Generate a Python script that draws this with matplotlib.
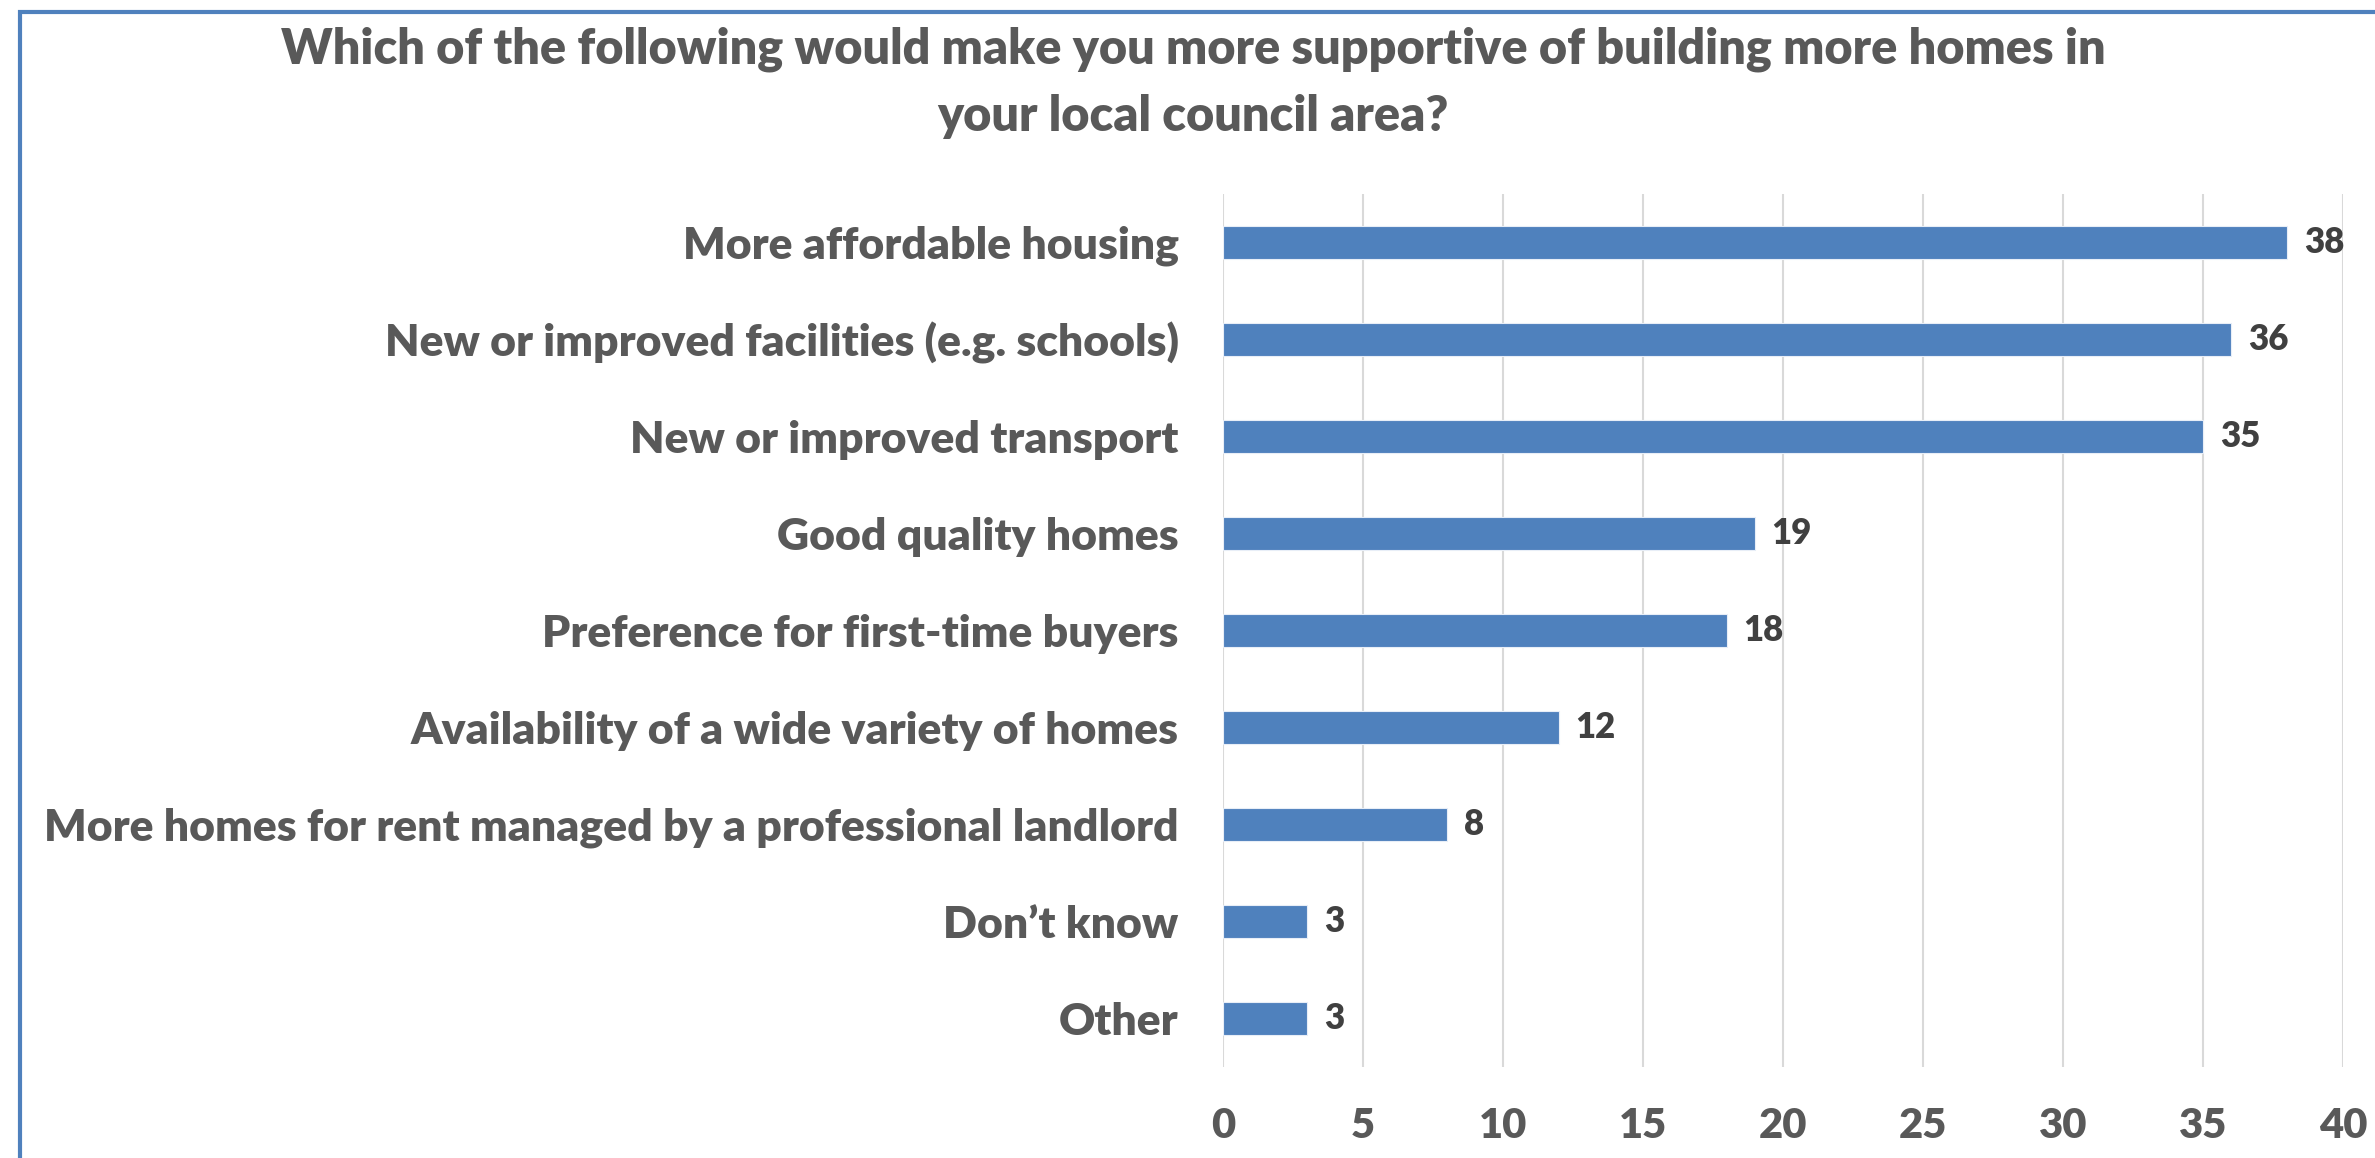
import matplotlib
matplotlib.use("Agg")
import matplotlib.pyplot as plt
from matplotlib.patches import Rectangle

# Survey responses (% of respondents)
categories = [
    "More affordable housing",
    "New or improved facilities (e.g. schools)",
    "New or improved transport",
    "Good quality homes",
    "Preference for first-time buyers",
    "Availability of a wide variety of homes",
    "More homes for rent managed by a professional landlord",
    "Don\u2019t know",
    "Other",
]
values = [38, 36, 35, 19, 18, 12, 8, 3, 3]
x_ticks = [0, 5, 10, 15, 20, 25, 30, 35, 40]
title = ("Which of the following would make you more supportive of building more homes in\n"
         "your local council area?")

BAR = "#4F81BD"
TEXT = "#595959"
VALUE_TEXT = "#404040"
GRID = "#D9D9D9"
WEIGHT = "heavy"

plt.rcParams["font.family"] = ["Lato", "DejaVu Sans"]

W, H, DPI = 2375, 1158, 100
fig = plt.figure(figsize=(W / DPI, H / DPI), dpi=DPI)
fig.patch.set_facecolor("white")

# Chart-area frame (top and left edges visible)
fig.patches.append(Rectangle((20 / W, -0.05), 1.2, 1 - 11.5 / H + 0.05,
                             transform=fig.transFigure, fill=False,
                             edgecolor=BAR, linewidth=3.0, zorder=10))

ax = fig.add_axes([1223 / W, 1 - 1067 / H, (2343 - 1223) / W, (1067 - 194) / H])

ypos = list(range(len(categories)))
bars = ax.barh(ypos, values, height=0.35, color=BAR, edgecolor="#E8EEF7",
               linewidth=0.8, zorder=3)

ax.set_xlim(0, 40)
ax.set_ylim(len(categories) - 0.5, -0.5)
ax.set_xticks(x_ticks)
ax.set_xticklabels([str(t) for t in x_ticks])
ax.set_yticks(ypos)
ax.set_yticklabels(categories)

ax.tick_params(axis="x", length=0, pad=29, labelsize=30, labelcolor=TEXT)
ax.tick_params(axis="y", length=0, pad=32, labelsize=32, labelcolor=TEXT)
for lbl in ax.get_xticklabels() + ax.get_yticklabels():
    lbl.set_fontweight(WEIGHT)

ax.grid(axis="x", color=GRID, linewidth=1.5, zorder=0)
ax.grid(axis="y", visible=False)
for s in ax.spines.values():
    s.set_visible(False)

for b, v in zip(bars, values):
    ax.annotate(str(v), xy=(v, b.get_y() + b.get_height() / 2),
                xytext=(12, 0), textcoords="offset points",
                va="center", ha="left", fontsize=25, fontweight=WEIGHT,
                color=VALUE_TEXT)

fig.text(1193 / W, 1 - 83 / H, title, ha="center", va="center",
         fontsize=35, fontweight=WEIGHT, color=TEXT, linespacing=1.6)

fig.savefig("out.png", dpi=DPI, facecolor="white")
